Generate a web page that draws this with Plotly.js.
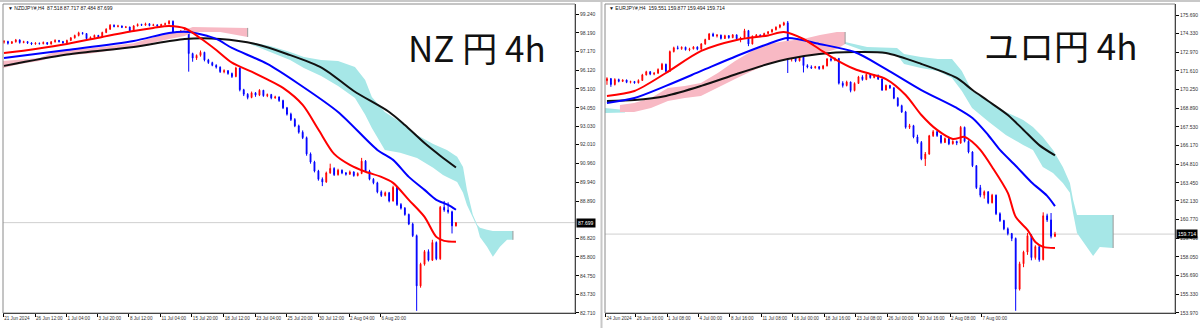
<!DOCTYPE html>
<html><head><meta charset="utf-8">
<script src="https://cdn.plot.ly/plotly-3.0.1.min.js"></script>
<style>html,body{margin:0;padding:0;background:#fff;}#chart{width:1200px;height:328px;}</style>
</head><body><div id="chart"></div>
<script>
// ---------------- NZDJPY H4 (left) ----------------
const openL = [97.68,97.72,97.62,97.70,97.80,97.66,97.71,97.64,97.58,97.62,97.60,97.66,97.58,97.70,97.78,97.72,97.64,97.78,97.92,98.05,98.20,98.16,97.88,97.95,98.06,97.98,98.22,98.40,98.62,98.55,98.58,98.50,98.52,98.30,98.58,98.66,98.62,98.70,98.60,98.64,98.58,98.66,98.70,98.84,98.05,98.22,98.30,98.38,97.05,96.80,96.95,97.12,96.70,96.55,96.40,96.30,96.05,96.10,95.95,95.78,96.25,95.05,94.80,94.62,94.88,94.75,95.02,94.72,94.78,94.60,94.65,94.45,94.05,93.70,93.40,93.05,92.70,92.40,91.50,91.05,90.55,90.10,89.95,90.45,90.70,90.35,90.60,90.45,90.38,90.50,90.30,90.42,91.10,90.55,90.10,89.90,89.40,89.20,89.35,88.90,89.65,88.70,88.50,88.15,87.62,86.98,84.20,85.40,86.10,85.62,86.60,85.70,88.55,88.40,88.30,87.518];
const highL = [97.80,97.76,97.74,97.86,97.84,97.76,97.74,97.68,97.68,97.66,97.72,97.69,97.74,97.84,97.80,97.75,97.82,97.96,98.10,98.26,98.24,98.18,98.00,98.10,98.08,98.26,98.45,98.68,98.66,98.64,98.60,98.58,98.54,98.62,98.72,98.70,98.76,98.73,98.70,98.66,98.70,98.76,98.90,98.88,98.26,98.36,98.48,98.42,97.10,97.00,97.22,97.15,96.76,96.60,96.46,96.34,96.18,96.14,96.00,96.32,96.28,95.10,94.86,94.95,94.92,95.08,95.04,94.84,94.82,94.72,94.68,94.50,94.10,93.78,93.48,93.12,92.80,92.46,91.58,91.12,90.62,90.20,90.52,90.96,90.76,90.68,90.64,90.50,90.58,90.54,90.48,91.28,91.16,90.62,90.16,89.96,89.48,89.42,89.40,89.74,89.70,88.78,88.56,88.20,87.70,87.04,85.48,86.18,86.22,86.75,86.66,88.62,88.90,88.82,88.36,87.717];
const lowL = [97.60,97.55,97.58,97.66,97.60,97.62,97.58,97.52,97.54,97.55,97.56,97.53,97.55,97.66,97.66,97.60,97.60,97.74,97.88,98.00,98.10,97.84,97.82,97.92,97.94,97.95,98.18,98.36,98.50,98.50,98.46,98.46,98.26,98.28,98.55,98.58,98.60,98.56,98.57,98.54,98.55,98.62,98.66,97.95,98.00,98.15,98.25,96.05,96.60,96.70,96.88,96.62,96.48,96.35,96.22,95.98,95.96,95.88,95.70,95.74,94.96,94.70,94.52,94.58,94.66,94.70,94.66,94.64,94.52,94.55,94.38,93.98,93.62,93.32,92.98,92.62,92.32,91.40,90.96,90.48,90.02,89.72,89.90,90.40,90.28,90.30,90.38,90.30,90.34,90.24,90.26,90.38,90.50,90.04,89.82,89.32,89.12,89.15,88.82,88.86,88.62,88.42,88.08,87.56,86.90,82.82,84.10,85.32,85.55,85.58,85.62,85.64,88.30,88.20,87.10,87.484];
const closeL = [97.72,97.62,97.70,97.80,97.66,97.71,97.64,97.58,97.62,97.60,97.66,97.58,97.70,97.78,97.72,97.64,97.78,97.92,98.05,98.20,98.16,97.88,97.95,98.06,97.98,98.22,98.40,98.62,98.55,98.58,98.50,98.52,98.30,98.58,98.66,98.62,98.70,98.60,98.64,98.58,98.66,98.70,98.84,98.05,98.22,98.30,98.38,97.05,96.80,96.95,97.12,96.70,96.55,96.40,96.30,96.05,96.10,95.95,95.78,96.25,95.05,94.80,94.62,94.88,94.75,95.02,94.72,94.78,94.60,94.65,94.45,94.05,93.70,93.40,93.05,92.70,92.40,91.50,91.05,90.55,90.10,89.95,90.45,90.70,90.35,90.60,90.45,90.38,90.50,90.30,90.42,91.10,90.55,90.10,89.90,89.40,89.20,89.35,88.90,89.65,88.70,88.50,88.15,87.62,86.98,84.20,85.40,86.10,85.62,86.60,85.70,88.55,88.40,88.30,87.52,87.699];

const maRedIdxL = [0,8,16,25,33,38,42,46,50,54,58,63,67,71,76,80,84,88,92,96,99,103,107,110,112,115];
const maRedL = [97.08,97.31,97.58,97.97,98.30,98.47,98.58,98.45,97.90,97.25,96.55,96.05,95.62,95.15,94.21,92.85,91.50,90.89,90.51,90.23,89.90,88.96,88.02,86.91,86.69,86.64];
const maBlueIdxL = [0,16,33,42,47,54,58,67,75,85,95,99,103,107,110,113,115];
const maBlueL = [96.81,97.25,97.75,98.19,98.24,97.86,97.36,96.48,95.37,93.82,91.72,91.17,90.23,89.51,88.96,88.68,88.41];
const maBlackIdxL = [0,16,33,46,55,64,72,81,89,98,102,107,111,115];
const maBlackL = [96.37,97.00,97.42,97.86,97.86,97.58,97.03,96.25,94.98,93.82,93.10,92.10,91.40,90.75];

const kumoPinkIdxL = [-0.3,4,9,13.5,22,33,37,42,46,48,55,62];
const kumoPinkTopL = [96.64,96.70,96.81,97.20,97.34,97.62,97.88,98.16,98.36,98.52,98.50,98.47];
const kumoPinkBotL = [96.25,96.48,96.64,96.92,97.05,97.40,97.62,97.86,98.02,98.24,98.24,97.97];
const kumoCyanIdxL = [62.6,67.7,72.8,76.3,80.7,85,89.3,91.9,93.6,96.9,100.8,105.1,109.2,111.7,112.7,115.3,116.8,117.8,119.3,120.4,121.1,122.9,124.4,126.2,128,129.5];
const kumoCyanTopL = [97.69,97.47,97.14,96.86,96.70,96.64,96.31,95.59,94.65,93.82,93.27,92.55,92.05,91.83,91.72,91.34,90.78,89.51,88.13,87.58,87.41,87.30,87.24,87.24,87.24,87.24];
const kumoCyanBotL = [97.58,97.14,96.70,96.25,95.81,95.26,94.60,93.66,92.94,91.72,91.56,91.28,90.73,90.34,90.23,89.95,89.35,88.68,88.02,87.47,86.91,86.36,85.81,86.36,86.75,86.75];

const yTicksL = ['99.240','98.190','97.170','96.120','95.100','94.050','93.030','92.010','90.960','89.940','88.890','86.820','85.800','84.750','83.730','82.710'];
const xTickIdxL = [-0.2,7.9,15.9,23.8,31.8,39.8,47.8,55.9,63.9,71.9,79.9,87.8,95.8];
const xTickTextL = ['21 Jun 2024','26 Jun 12:00','1 Jul 04:00','3 Jul 20:00','8 Jul 12:00','11 Jul 04:00','15 Jul 20:00','18 Jul 12:00','23 Jul 04:00','25 Jul 20:00','30 Jul 12:00','2 Aug 04:00','6 Aug 20:00'];

// ---------------- EURJPY H4 (right) ----------------
const openR = [170.90,171.05,170.62,170.98,170.85,170.95,170.78,170.84,170.74,170.92,171.32,171.55,171.38,171.45,171.72,172.10,171.58,173.02,173.30,173.24,173.34,173.16,173.22,173.36,173.20,173.58,173.90,174.30,174.16,174.22,173.98,174.18,174.04,174.24,173.96,174.02,174.55,173.58,174.14,174.22,174.15,174.34,174.46,174.62,174.80,174.96,175.12,172.50,172.86,172.35,172.72,172.00,171.90,171.84,171.92,171.78,171.98,172.48,172.40,172.52,170.72,170.55,170.80,170.18,170.70,171.18,170.98,171.36,171.12,171.30,171.02,170.22,170.55,170.38,169.62,169.08,168.62,167.50,167.62,166.80,166.40,165.20,165.55,166.88,167.18,166.90,166.40,166.68,166.30,166.48,166.35,167.50,166.48,165.70,164.70,163.10,162.55,162.80,162.00,162.55,161.20,160.70,160.10,159.75,159.40,155.70,157.55,158.40,159.60,158.00,158.80,157.85,161.05,160.75,159.551];
const highR = [171.15,171.10,171.08,171.05,171.00,170.98,170.90,170.88,171.00,171.40,171.62,171.60,171.52,171.80,172.20,172.14,173.10,173.38,173.45,173.40,173.38,173.30,173.42,173.40,173.64,173.96,174.38,174.40,174.30,174.26,174.25,174.22,174.30,174.28,174.10,174.68,174.60,174.20,174.30,174.28,174.40,174.52,174.68,174.86,175.02,175.20,175.25,172.95,172.90,172.80,172.78,172.10,172.02,171.98,171.96,172.05,172.55,172.70,172.60,172.56,170.86,170.90,170.84,170.78,171.25,171.30,171.42,171.44,171.38,171.34,171.06,170.62,170.60,170.42,169.70,169.15,168.70,167.75,167.68,166.96,166.50,165.70,166.95,167.30,167.24,166.95,166.76,166.72,166.55,166.52,167.60,167.55,166.55,165.76,164.75,163.30,162.90,162.84,162.65,162.60,161.30,160.76,160.20,159.80,159.46,157.70,158.50,159.80,159.70,158.90,158.86,161.30,161.20,161.25,159.877];
const lowR = [170.60,170.45,170.55,170.78,170.80,170.72,170.70,170.68,170.70,170.88,171.28,171.30,171.30,171.40,171.68,171.50,171.54,172.96,173.18,173.15,173.10,173.05,173.18,173.12,173.16,173.52,173.86,174.10,174.05,173.90,173.94,173.96,174.00,173.88,173.70,173.98,173.42,173.54,174.05,174.08,174.10,174.28,174.40,174.56,174.72,174.90,171.46,172.30,172.25,172.30,171.50,171.80,171.75,171.78,171.70,171.72,171.94,172.30,172.32,170.62,170.40,170.48,170.05,170.12,170.66,170.90,170.94,171.05,171.08,170.95,170.15,170.18,170.30,169.55,169.00,168.55,167.40,167.38,166.70,166.30,165.10,164.68,165.50,166.80,166.80,166.30,166.35,166.20,166.24,166.20,166.30,166.40,165.60,164.60,163.00,162.40,162.30,161.90,161.95,161.10,160.60,160.00,159.62,159.20,154.12,155.60,157.30,158.20,157.80,157.85,157.70,157.80,160.60,159.40,159.494];
const closeR = [171.05,170.62,170.98,170.85,170.95,170.78,170.84,170.74,170.92,171.32,171.55,171.38,171.45,171.72,172.10,171.58,173.02,173.30,173.24,173.34,173.16,173.22,173.36,173.20,173.58,173.90,174.30,174.16,174.22,173.98,174.18,174.04,174.24,173.96,174.02,174.55,173.58,174.14,174.22,174.15,174.34,174.46,174.62,174.80,174.96,175.12,172.50,172.86,172.35,172.72,172.00,171.90,171.84,171.92,171.78,171.98,172.48,172.40,172.52,170.72,170.55,170.80,170.18,170.70,171.18,170.98,171.36,171.12,171.30,171.02,170.22,170.55,170.38,169.62,169.08,168.62,167.50,167.62,166.80,166.40,165.20,165.55,166.88,167.18,166.90,166.40,166.68,166.30,166.48,166.35,167.50,166.48,165.70,164.70,163.10,162.55,162.80,162.00,162.55,161.20,160.70,160.10,159.75,159.40,155.70,157.55,158.40,159.60,158.00,158.80,157.85,161.05,160.75,159.55,159.714];

const maRedIdxR = [0,7,15,24,33,41,45,50,54,58,63,67,71,76,80,84,88,91,93,95,98,102,104,107,109,111,114];
const maRedR = [169.79,170.15,171.46,173.07,173.87,174.20,174.45,173.94,173.21,172.48,171.75,171.39,171.02,169.86,168.40,167.31,166.65,166.80,166.43,165.85,164.61,162.72,160.97,160.02,159.14,158.78,158.70];
const maBlueIdxR = [0,7,15,24,33,41,46,54,63,71,80,89,93,97,100,104,108,112,114];
const maBlueR = [169.28,169.64,170.52,171.61,172.70,173.58,174.01,173.58,172.99,171.75,170.22,168.91,168.18,166.94,165.85,164.70,163.50,162.50,161.75];
const maBlackIdxR = [0,7,15,24,33,41,46,54,63,71,80,89,93,97,102,106,110,114];
const maBlackR = [169.42,169.49,169.79,170.52,171.39,172.12,172.48,172.85,172.99,172.92,172.12,171.10,170.22,169.42,168.40,167.31,166.20,165.45];

const kumoPinkIdxR = [3.3,6.9,11.2,15.5,19.8,23.9,28.2,32.6,36.9,41.2,45.5,49.9,54.2,58.5,60.6];
const kumoPinkTopR = [169.13,169.28,169.64,170.37,170.52,170.73,171.46,172.34,173.07,173.58,173.80,173.94,174.23,174.45,174.45];
const kumoPinkBotR = [168.62,168.62,168.91,169.42,169.64,169.79,170.37,171.02,171.61,172.12,172.48,172.70,172.85,173.21,173.58];
const kumoCyanStartIdxR = [-0.5,2,4.6];
const kumoCyanStartTopR = [168.91,168.85,168.77];
const kumoCyanStartBotR = [168.55,168.55,168.58];
const kumoCyanIdxR = [60.6,66.2,73.8,75.6,79.9,84.2,87.8,90.3,92.9,97.2,101.5,105.9,108.4,110.9,113.5,116,117.8,118.6,119.6,122.1,123.7,125.4,128.8];
const kumoCyanTopR = [173.72,173.36,173.28,172.85,172.63,172.48,172.48,171.61,170.15,169.42,168.62,168.04,167.53,166.80,165.85,164.61,163.44,162.21,161.11,161.11,161.11,161.11,161.11];
const kumoCyanBotR = [173.58,172.99,172.77,172.12,171.82,171.61,171.10,170.15,168.91,167.89,166.94,166.21,165.85,164.61,164.17,163.44,162.72,161.26,159.80,158.78,158.12,158.78,158.70];

const yTicksR = ['175.690','174.330','172.970','171.610','170.250','168.890','167.530','166.170','164.810','163.450','162.130','160.770','159.410','158.050','156.690','155.330','153.970'];
const xTickIdxR = [-0.4,7.3,15.3,23.3,31.3,39.3,47.3,55.3,63.3,71.3,79.3,87.3,95.3];
const xTickTextR = ['24 Jun 2024','26 Jun 16:00','1 Jul 08:00','4 Jul 00:00','8 Jul 16:00','11 Jul 08:00','16 Jul 00:00','18 Jul 16:00','23 Jul 08:00','26 Jul 00:00','30 Jul 16:00','2 Aug 08:00','7 Aug 00:00'];

const headerL = '▼ NZDJPY#,H4  87.518 87.717 87.484 87.699';
const headerR = '▼ EURJPY#,H4  159.551 159.877 159.494 159.714';
const titleL = 'NZ 円 4h';
const titleR = 'ユロ円 4h';

// ---------------- build ----------------
const PINK = '#f8b9c4', CYAN = '#a6e7e7';
function band(xs, top, bot, color, xa, ya) {
  return {type:'scatter', mode:'lines', x: xs.concat(xs.slice().reverse()),
    y: top.concat(bot.slice().reverse()), fill:'toself', fillcolor: color,
    line:{width:0, color: color}, xaxis: xa, yaxis: ya, hoverinfo:'skip', showlegend:false};
}
function endLine(xs, top, bot, xa, ya) {
  const k = xs.length - 1;
  return {type:'scatter', mode:'lines', x:[xs[k], xs[k]], y:[top[k], bot[k]],
    line:{width:1, color:'#9a9a9a'}, xaxis: xa, yaxis: ya, hoverinfo:'skip', showlegend:false};
}
function candles(o,h,l,c,xa,ya) {
  return {type:'candlestick', x: o.map((_, i) => i), open:o, high:h, low:l, close:c,
    increasing:{line:{color:'#ff0000', width:1}, fillcolor:'#ff0000'},
    decreasing:{line:{color:'#0000ff', width:1}, fillcolor:'#0000ff'},
    whiskerwidth:0, xaxis: xa, yaxis: ya, hoverinfo:'skip', showlegend:false};
}
function ma(xs, ys, color, xa, ya) {
  return {type:'scatter', mode:'lines', x: xs, y: ys, line:{color: color, width:2, shape:'spline', smoothing:0.8},
    xaxis: xa, yaxis: ya, hoverinfo:'skip', showlegend:false};
}

const traces = [
  band(kumoPinkIdxL, kumoPinkTopL, kumoPinkBotL, PINK, 'x', 'y'),
  band(kumoCyanIdxL, kumoCyanTopL, kumoCyanBotL, CYAN, 'x', 'y'),
  endLine(kumoPinkIdxL, kumoPinkTopL, kumoPinkBotL, 'x', 'y'),
  endLine(kumoCyanIdxL, kumoCyanTopL, kumoCyanBotL, 'x', 'y'),
  candles(openL, highL, lowL, closeL, 'x', 'y'),
  ma(maBlackIdxL, maBlackL, '#111111', 'x', 'y'),
  ma(maBlueIdxL, maBlueL, '#0000ff', 'x', 'y'),
  ma(maRedIdxL, maRedL, '#ff0000', 'x', 'y'),

  band(kumoCyanStartIdxR, kumoCyanStartTopR, kumoCyanStartBotR, CYAN, 'x2', 'y2'),
  band(kumoPinkIdxR, kumoPinkTopR, kumoPinkBotR, PINK, 'x2', 'y2'),
  band(kumoCyanIdxR, kumoCyanTopR, kumoCyanBotR, CYAN, 'x2', 'y2'),
  endLine(kumoPinkIdxR, kumoPinkTopR, kumoPinkBotR, 'x2', 'y2'),
  endLine(kumoCyanIdxR, kumoCyanTopR, kumoCyanBotR, 'x2', 'y2'),
  candles(openR, highR, lowR, closeR, 'x2', 'y2'),
  ma(maBlackIdxR, maBlackR, '#111111', 'x2', 'y2'),
  ma(maBlueIdxR, maBlueR, '#0000ff', 'x2', 'y2'),
  ma(maRedIdxR, maRedR, '#ff0000', 'x2', 'y2')
];

const W = 1200, H = 328;
const FONT = 'Liberation Sans, Arial, sans-serif';
const xTickFont = {family: FONT, size:4.6, color:'#333'};
const yTickFont = {family: FONT, size:5, color:'#333'};
const yDom = [15/H, 1 - 4/H];
function xAxis(dom, rng, tv, tt, yanchor) {
  return {domain: dom, range: rng, anchor: yanchor, showgrid:false, zeroline:false,
    rangeslider:{visible:false}, showline:true, linecolor:'#000', linewidth:1,
    tickmode:'array', tickvals: tv, ticktext: tt, ticks:'outside', ticklen:3, tickcolor:'#000',
    tickangle:0, ticklabelposition:'outside right', tickfont: xTickFont, fixedrange:true};
}
function yAxis(rng, tt, xanchor) {
  return {domain: yDom, range: rng, anchor: xanchor, side:'right', showgrid:false, zeroline:false,
    showline:true, linecolor:'#000', linewidth:1, tickmode:'array', tickvals: tt.map(Number), ticktext: tt,
    ticks:'outside', ticklen:3, tickcolor:'#000', tickfont: yTickFont, fixedrange:true};
}

const lastL = closeL[closeL.length - 1], lastR = closeR[closeR.length - 1];
const layout = {
  width: W, height: H, margin:{l:0, r:0, t:0, b:0}, paper_bgcolor:'#fff', plot_bgcolor:'#fff',
  showlegend:false, boxgap:0.7,
  xaxis: xAxis([3/W, 575/W], [-0.254, 145.29], xTickIdxL, xTickTextL, 'y'),
  yaxis: yAxis([82.70, 99.793], yTicksL, 'x'),
  xaxis2: xAxis([605/W, 1175/W], [-0.5, 144.54], xTickIdxR, xTickTextR, 'y2'),
  yaxis2: yAxis([153.96, 176.492], yTicksR, 'x2'),
  shapes: [
    {type:'line', xref:'x domain', yref:'y', x0:0, x1:1, y0:lastL, y1:lastL, line:{color:'#cfcfcf', width:1}, layer:'below'},
    {type:'line', xref:'x2 domain', yref:'y2', x0:0, x1:1, y0:lastR, y1:lastR, line:{color:'#cfcfcf', width:1}, layer:'below'},
    {type:'rect', xref:'x domain', yref:'y domain', x0:0, x1:1, y0:0, y1:1, line:{color:'#8a8a8a', width:1}},
    {type:'rect', xref:'x2 domain', yref:'y2 domain', x0:0, x1:1, y0:0, y1:1, line:{color:'#8a8a8a', width:1}},
    {type:'line', xref:'paper', yref:'paper', x0:601.5/W, x1:601.5/W, y0:0, y1:1, line:{color:'#c8c8c8', width:2}},
    {type:'rect', xref:'paper', yref:'paper', x0:0, x1:1, y0:1 - 2/H, y1:1, line:{width:0}, fillcolor:'#c8c8c8'}
  ],
  annotations: [
    {xref:'paper', yref:'paper', x:6/W, y:1 - 8.5/H, xanchor:'left', yanchor:'middle', showarrow:false,
      text: headerL, font:{family: FONT, size:5, color:'#111'}},
    {xref:'paper', yref:'paper', x:607/W, y:1 - 8.5/H, xanchor:'left', yanchor:'middle', showarrow:false,
      text: headerR, font:{family: FONT, size:5, color:'#111'}},
    {xref:'paper', yref:'paper', x:477/W, y:1 - 46/H, xanchor:'center', yanchor:'middle', showarrow:false,
      text: titleL, font:{family:'Noto Sans CJK JP, Noto Sans, sans-serif', size:35, color:'#111'}},
    {xref:'paper', yref:'paper', x:1061/W, y:1 - 44/H, xanchor:'center', yanchor:'middle', showarrow:false,
      text: titleR, font:{family:'Noto Sans CJK JP, Noto Sans, sans-serif', size:35, color:'#111'}},
    {xref:'paper', yref:'y', x:576/W, y:lastL, xanchor:'left', yanchor:'middle', showarrow:false,
      text: lastL.toFixed(3), bgcolor:'#000', borderpad:1, font:{family: FONT, size:5, color:'#fff'}},
    {xref:'paper', yref:'y2', x:1176/W, y:lastR, xanchor:'left', yanchor:'middle', showarrow:false,
      text: lastR.toFixed(3), bgcolor:'#000', borderpad:1, font:{family: FONT, size:5, color:'#fff'}}
  ]
};

Plotly.newPlot('chart', traces, layout, {staticPlot:true, displayModeBar:false});
</script>
</body></html>
